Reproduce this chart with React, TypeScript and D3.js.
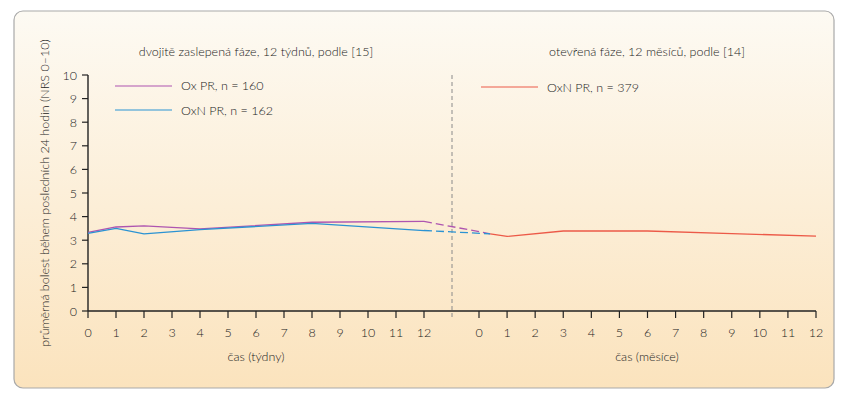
import React from 'react';
import * as d3 from 'd3';

// Weeks (double-blind phase)
const weeks = [0, 1, 2, 4, 8, 12];
const oxPR = [3.33, 3.56, 3.61, 3.48, 3.76, 3.8];
const oxnPR = [3.29, 3.5, 3.27, 3.45, 3.71, 3.41];

// Months (open-label phase)
const months = [0.4, 1, 3, 6, 9, 12];
const oxnOpen = [3.27, 3.16, 3.39, 3.39, 3.28, 3.17];

const weekTicks = d3.range(0, 13);
const monthTicks = d3.range(0, 13);
const yTicks = d3.range(0, 11);

const PURPLE = '#ae55b0';
const BLUE = '#2b93d3';
const RED = '#ec5a48';
const TXT = '#222';
const FONT = 'Lato, "Open Sans", sans-serif';

const App = () => {
  const W = 853;
  const H = 393;

  const y = d3.scaleLinear().domain([0, 10]).range([311, 75]);
  const xw = d3.scaleLinear().domain([0, 12]).range([88, 424]);
  const xm = d3.scaleLinear().domain([0, 12]).range([479, 816]);

  const lineW = d3.line<[number, number]>()
    .x(d => xw(d[0]))
    .y(d => y(d[1]));
  const lineM = d3.line<[number, number]>()
    .x(d => xm(d[0]))
    .y(d => y(d[1]));

  const ox = weeks.map((w, i) => [w, oxPR[i]] as [number, number]);
  const oxn = weeks.map((w, i) => [w, oxnPR[i]] as [number, number]);
  const open = months.map((m, i) => [m, oxnOpen[i]] as [number, number]);

  const last = weeks.length - 1;
  const bridge = (v: number) =>
    `M${xw(weeks[last])},${y(v)}L${xm(months[0])},${y(oxnOpen[0])}`;

  const sep = xw(13);

  return (
    <svg width={W} height={H} style={{ position: 'absolute', left: 0, top: 0 }} fontFamily={FONT} fontWeight={300}>
      <defs>
        <linearGradient id="bg" x1="0" y1="0" x2="0" y2="1">
          <stop offset="0" stopColor="#fdfaf3" />
          <stop offset="1" stopColor="#fbe3bd" />
        </linearGradient>
      </defs>
      <rect x={14} y={11} width={820} height={377} rx={9} fill="url(#bg)" stroke="#a9a9a9" strokeWidth={1.2} />

      {/* titles */}
      <text x={256} y={56} textAnchor="middle" fontSize={12.5} fill={TXT}>dvojitě zaslepená fáze, 12 týdnů, podle [15]</text>
      <text x={647} y={56} textAnchor="middle" fontSize={12.5} fill={TXT}>otevřená fáze, 12 měsíců, podle [14]</text>

      {/* legends */}
      <line x1={115} x2={172} y1={86} y2={86} stroke={PURPLE} strokeWidth={1.2} />
      <text x={181} y={90} fontSize={12.5} fill={TXT}>Ox PR, n = 160</text>
      <line x1={115} x2={172} y1={110} y2={110} stroke={BLUE} strokeWidth={1.2} />
      <text x={181} y={115} fontSize={12.5} fill={TXT}>OxN PR, n = 162</text>
      <line x1={481} x2={538} y1={87} y2={87} stroke={RED} strokeWidth={1.2} />
      <text x={547} y={92} fontSize={12.5} fill={TXT}>OxN PR, n = 379</text>

      {/* separator */}
      <line x1={sep} x2={sep} y1={75} y2={320} stroke="#8a8a8a" strokeWidth={1} strokeDasharray="4,3" />

      {/* y axis */}
      <line x1={88} x2={88} y1={y(10)} y2={y(0)} stroke="#222" strokeWidth={1.4} />
      {yTicks.map(t => (
        <g key={'y' + t}>
          <line x1={82} x2={88} y1={y(t)} y2={y(t)} stroke="#222" strokeWidth={1.2} />
          <text x={77} y={y(t) + 4.5} textAnchor="end" fontSize={12.5} fill={TXT}>{t}</text>
        </g>
      ))}

      {/* x axis */}
      <line x1={88} x2={xm(12)} y1={y(0)} y2={y(0)} stroke="#222" strokeWidth={1.4} />
      {weekTicks.map(t => (
        <g key={'w' + t}>
          <line x1={xw(t)} x2={xw(t)} y1={y(0)} y2={y(0) + 7} stroke="#222" strokeWidth={1.2} />
          <text x={xw(t)} y={337} textAnchor="middle" fontSize={12.5} fill={TXT}>{t}</text>
        </g>
      ))}
      {monthTicks.map(t => (
        <g key={'m' + t}>
          <line x1={xm(t)} x2={xm(t)} y1={y(0)} y2={y(0) + 7} stroke="#222" strokeWidth={1.2} />
          <text x={xm(t)} y={337} textAnchor="middle" fontSize={12.5} fill={TXT}>{t}</text>
        </g>
      ))}

      <text x={256} y={361} textAnchor="middle" fontSize={12.5} fill={TXT}>čas (týdny)</text>
      <text x={647} y={361} textAnchor="middle" fontSize={12.5} fill={TXT}>čas (měsíce)</text>

      <text transform="translate(49,193) rotate(-90)" textAnchor="middle" fontSize={12.5} fill={TXT}>
        průměrná bolest během posledních 24 hodin (NRS 0–10)
      </text>

      {/* series */}
      <path d={bridge(oxPR[last])} fill="none" stroke={PURPLE} strokeWidth={1.3} strokeDasharray="8,4" />
      <path d={bridge(oxnPR[last])} fill="none" stroke={BLUE} strokeWidth={1.3} strokeDasharray="8,4" />
      <path d={lineW(ox) || ''} fill="none" stroke={PURPLE} strokeWidth={1.3} />
      <path d={lineW(oxn) || ''} fill="none" stroke={BLUE} strokeWidth={1.3} />
      <path d={lineM(open) || ''} fill="none" stroke={RED} strokeWidth={1.3} />
    </svg>
  );
};

export default App;
